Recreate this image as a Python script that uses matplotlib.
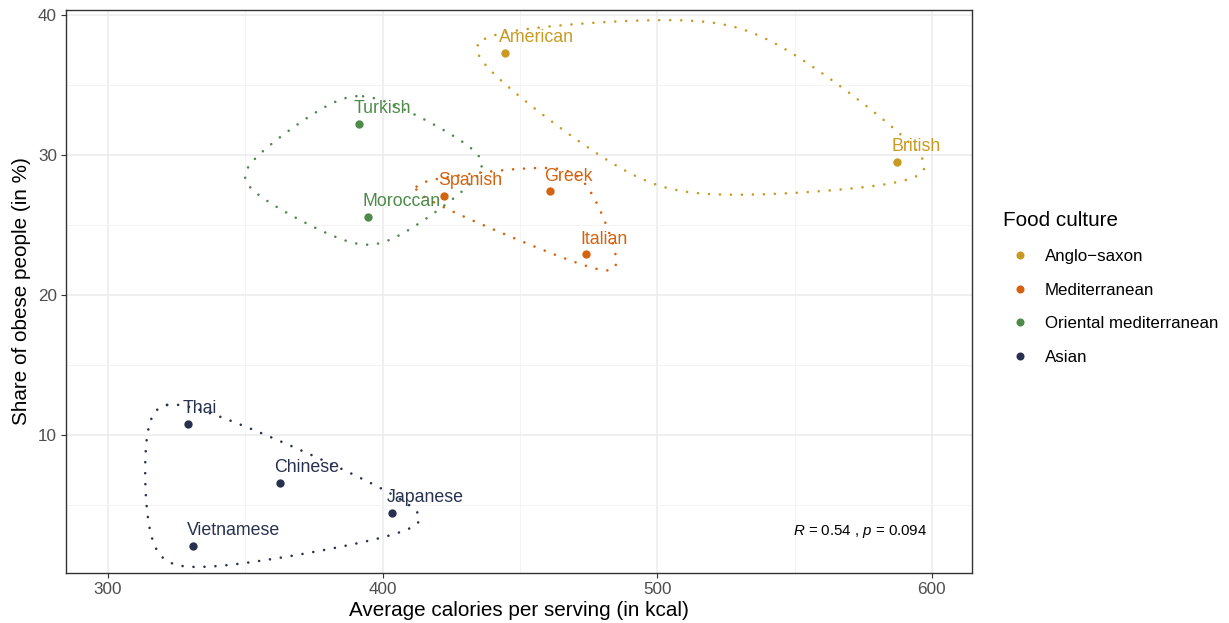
import matplotlib
matplotlib.use('Agg')
import matplotlib.pyplot as plt
from matplotlib.lines import Line2D
import numpy as np

plt.rcParams['font.family'] = ['Liberation Sans', 'DejaVu Sans']
plt.rcParams['mathtext.fontset'] = 'custom'
plt.rcParams['mathtext.rm'] = 'Liberation Sans'
plt.rcParams['mathtext.it'] = 'Liberation Sans:italic'
plt.rcParams['lines.scale_dashes'] = False

cuisines = ["American", "British", "Greek", "Italian", "Spanish", "Turkish",
            "Moroccan", "Thai", "Chinese", "Japanese", "Vietnamese"]
calories = [444.5, 587.2, 460.9, 474.0, 422.3, 391.4, 394.6, 329.1, 362.6, 403.4, 330.9]
obesity = [37.3, 29.5, 27.4, 22.9, 27.1, 32.2, 25.6, 10.8, 6.6, 4.4, 2.1]
cultures = ["Anglo-saxon", "Anglo-saxon", "Mediterranean", "Mediterranean", "Mediterranean",
            "Oriental mediterranean", "Oriental mediterranean",
            "Asian", "Asian", "Asian", "Asian"]
culture_order = ["Anglo-saxon", "Mediterranean", "Oriental mediterranean", "Asian"]
legend_labels = ["Anglo\u2212saxon", "Mediterranean", "Oriental mediterranean", "Asian"]
colors = {"Anglo-saxon": "#C99A22", "Mediterranean": "#D4620E",
          "Oriental mediterranean": "#4E8A4A", "Asian": "#283250"}

x_ticks = [300, 400, 500, 600]
y_ticks = [10, 20, 30, 40]
cor_label = r"$R$ = 0.54 , $p$ = 0.094"


# --- x-spline (Blanc & Schlick), like R's xspline with negative shape ---
def g_blend(u, q):
    return u * (q + u * (2 * q + u * (8 - 12 * q + u * (14 * q - 11 + u * (4 - 5 * q)))))


def h_blend(u, q):
    return u * (q + u * (2 * q + u * u * (-2 * q - u * q)))


def closed_xspline(pts, shape=-0.5, steps=60):
    q = -shape
    n = len(pts)
    out = []
    for k in range(n):
        p0, p1, p2, p3 = pts[(k - 1) % n], pts[k], pts[(k + 1) % n], pts[(k + 2) % n]
        for t in np.linspace(0, 1, steps, endpoint=False):
            a = np.array([h_blend(-t, q), g_blend(1 - t, q), g_blend(t, q), h_blend(t - 1, q)])
            out.append((a[0] * p0 + a[1] * p1 + a[2] * p2 + a[3] * p3) / a.sum())
    out.append(out[0])
    return np.array(out)


def convex_hull(p):
    idx = sorted(range(len(p)), key=lambda i: (p[i][0], p[i][1]))

    def cross(o, a, b):
        return (a[0] - o[0]) * (b[1] - o[1]) - (a[1] - o[1]) * (b[0] - o[0])
    lower, upper = [], []
    for i in idx:
        while len(lower) >= 2 and cross(p[lower[-2]], p[lower[-1]], p[i]) <= 0:
            lower.pop()
        lower.append(i)
    for i in reversed(idx):
        while len(upper) >= 2 and cross(p[upper[-2]], p[upper[-1]], p[i]) <= 0:
            upper.pop()
        upper.append(i)
    return lower[:-1] + upper[:-1]


def encircle(ax, fig, xs, ys, color, expand=0.05, spread=0.1):
    pos = ax.get_position()
    W = pos.width * fig.bbox.width
    H = pos.height * fig.bbox.height
    pts = ax.transData.transform(np.column_stack([xs, ys]))
    m = pts.mean(axis=0)
    if len(pts) == 2:
        d = pts[0] - pts[1]
        d = d / np.hypot(*d)
        dd = np.array([-d[1], d[0]]) * spread * np.array([W, H])
        ctrl = np.array([pts[0], m + dd, pts[1], m - dd])
    else:
        ctrl = pts[convex_hull(pts)]
    dirs = ctrl - m
    dirs = dirs / np.hypot(dirs[:, 0], dirs[:, 1])[:, None]
    ctrl = ctrl + dirs * expand * min(W, H)
    curve = closed_xspline(ctrl)
    curve = ax.transData.inverted().transform(curve)
    ax.plot(curve[:, 0], curve[:, 1], color=color, lw=1.9,
            linestyle=(0, (0.01, 7.9)), dash_capstyle='round', zorder=3)


fig = plt.figure(figsize=(12.29, 6.23), dpi=100)
ax = fig.add_axes([66 / 1229, 1 - 573 / 623, 906 / 1229, 563 / 623])
ax.set_xlim(284.7, 614.6)
ax.set_ylim(0.14, 40.36)

ax.set_xticks(x_ticks)
ax.set_yticks(y_ticks)
ax.set_xticks([350, 450, 550], minor=True)
ax.set_yticks([5, 15, 25, 35], minor=True)
ax.grid(True, which='major', color='#EBEBEB', lw=1.1, zorder=0)
ax.grid(True, which='minor', color='#F3F3F3', lw=0.6, zorder=0)
ax.set_axisbelow(True)
ax.tick_params(which='major', length=3.5, width=0.8, color='#333333',
               labelsize=12.3, labelcolor='#4D4D4D', pad=3)
ax.tick_params(which='minor', length=0)
for sp in ax.spines.values():
    sp.set_color('#333333')
    sp.set_linewidth(1.0)

calories_a = np.array(calories)
obesity_a = np.array(obesity)
cultures_a = np.array(cultures)

for c in culture_order:
    mask = cultures_a == c
    encircle(ax, fig, calories_a[mask], obesity_a[mask], colors[c])
    ax.scatter(calories_a[mask], obesity_a[mask], s=36, color=colors[c], zorder=4, linewidths=0)

for name, x, y, c in zip(cuisines, calories, obesity, cultures):
    ax.text(x - 2.0, y + 1.1, name, color=colors[c], fontsize=12.8,
            ha='left', va='center', zorder=5)

ax.text(598.3, 3.1, cor_label, fontsize=10.8, ha='right', va='center', color='black')

ax.set_xlabel("Average calories per serving (in kcal)", fontsize=14.9, labelpad=3)
ax.set_ylabel("Share of obese people (in %)", fontsize=14.9, labelpad=5)

handles = [Line2D([], [], marker='o', ls='', markersize=5.8, color=colors[c],
                  markeredgewidth=0) for c in culture_order]
leg = fig.legend(handles, legend_labels, title="Food culture",
                 loc='upper left', bbox_to_anchor=(995 / 1229, 1 - 203 / 623),
                 frameon=False, fontsize=12.2, title_fontsize=14.9,
                 labelspacing=1.1, handletextpad=0.45, handlelength=2.0,
                 borderpad=0, alignment='left')

fig.savefig("out.png", dpi=100)
